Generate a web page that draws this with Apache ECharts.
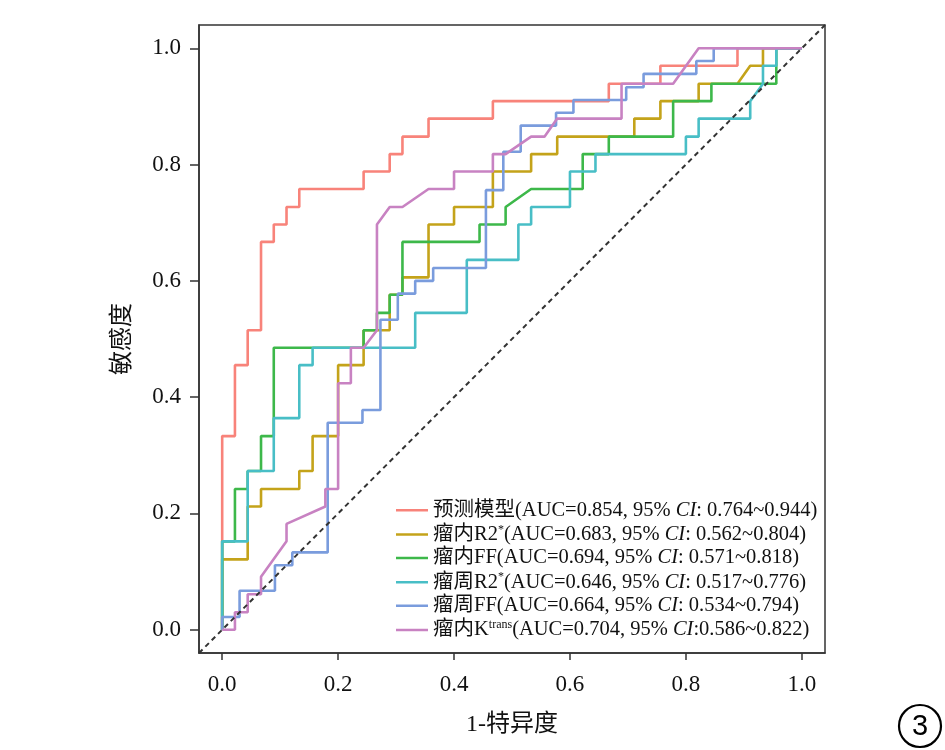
<!DOCTYPE html>
<html>
	<head>
		<meta charset="UTF-8">
		<title>ROC</title>
		<style>
			body {
				margin: 0;
				background: white;
			}
			#main {
				width: 945px;
				height: 750px;
			}
		</style>
	</head>
	<body>
		<div id="main"></div>
		<script type="text/javascript" src="https://cdn.jsdelivr.net/npm/echarts@6/dist/echarts.min.js"></script>
		<script>
			// 图例名称 / AUC / 95% CI
			var names = ['预测模型', '瘤内R2*', '瘤内FF', '瘤周R2*', '瘤周FF', '瘤内Ktrans'];
			var aucVals = ['0.854', '0.683', '0.694', '0.646', '0.664', '0.704'];
			var ciText = [': 0.764~0.944', ': 0.562~0.804', ': 0.571~0.818', ': 0.517~0.776', ': 0.534~0.794', ':0.586~0.822'];
			var colors = ['#F8837A', '#C4A31A', '#3DB84A', '#48BEC6', '#7A9CDD', '#C882C2'];

			// 坐标刻度
			var xTicks = [0, 0.2, 0.4, 0.6, 0.8, 1.0];
			var yTicks = [0, 0.2, 0.4, 0.6, 0.8, 1.0];

			// ROC 曲线拐点 (1-特异度, 敏感度)
			var predFpr = [0, 0, 0.022, 0.022, 0.044, 0.044, 0.067, 0.067, 0.089, 0.089, 0.111, 0.111, 0.133, 0.133, 0.244, 0.244, 0.289, 0.289, 0.311, 0.311, 0.356, 0.356, 0.467, 0.467, 0.667, 0.667, 0.756, 0.756, 0.889, 0.889, 1];
			var predTpr = [0, 0.333, 0.333, 0.455, 0.455, 0.515, 0.515, 0.667, 0.667, 0.697, 0.697, 0.727, 0.727, 0.758, 0.758, 0.788, 0.788, 0.818, 0.818, 0.848, 0.848, 0.879, 0.879, 0.909, 0.909, 0.939, 0.939, 0.970, 0.970, 1, 1];

			var inR2Fpr = [0, 0, 0.044, 0.044, 0.067, 0.067, 0.133, 0.133, 0.156, 0.156, 0.2, 0.2, 0.244, 0.244, 0.289, 0.289, 0.311, 0.311, 0.356, 0.356, 0.4, 0.4, 0.467, 0.467, 0.533, 0.533, 0.578, 0.578, 0.711, 0.711, 0.756, 0.756, 0.822, 0.822, 0.889, 0.911, 0.933, 0.933, 1];
			var inR2Tpr = [0, 0.121, 0.121, 0.212, 0.212, 0.242, 0.242, 0.273, 0.273, 0.333, 0.333, 0.455, 0.455, 0.515, 0.515, 0.576, 0.576, 0.606, 0.606, 0.697, 0.697, 0.727, 0.727, 0.788, 0.788, 0.818, 0.818, 0.848, 0.848, 0.879, 0.879, 0.909, 0.909, 0.939, 0.939, 0.970, 0.970, 1, 1];

			var inFFFpr = [0, 0, 0.022, 0.022, 0.044, 0.044, 0.067, 0.067, 0.089, 0.089, 0.244, 0.244, 0.267, 0.267, 0.289, 0.289, 0.311, 0.311, 0.444, 0.444, 0.489, 0.489, 0.533, 0.622, 0.622, 0.667, 0.667, 0.778, 0.778, 0.844, 0.844, 0.956, 0.956, 1];
			var inFFTpr = [0, 0.152, 0.152, 0.242, 0.242, 0.273, 0.273, 0.333, 0.333, 0.485, 0.485, 0.515, 0.515, 0.545, 0.545, 0.576, 0.576, 0.667, 0.667, 0.697, 0.697, 0.727, 0.758, 0.758, 0.818, 0.818, 0.848, 0.848, 0.909, 0.909, 0.939, 0.939, 1, 1];

			var periR2Fpr = [0, 0, 0.044, 0.044, 0.089, 0.089, 0.133, 0.133, 0.156, 0.156, 0.333, 0.333, 0.422, 0.422, 0.511, 0.511, 0.533, 0.533, 0.6, 0.6, 0.644, 0.644, 0.8, 0.8, 0.822, 0.822, 0.911, 0.911, 0.933, 0.933, 0.956, 0.956, 1];
			var periR2Tpr = [0, 0.152, 0.152, 0.273, 0.273, 0.364, 0.364, 0.455, 0.455, 0.485, 0.485, 0.545, 0.545, 0.636, 0.636, 0.697, 0.697, 0.727, 0.727, 0.788, 0.788, 0.818, 0.818, 0.848, 0.848, 0.879, 0.879, 0.909, 0.939, 0.970, 0.970, 1, 1];

			var periFFFpr = [0, 0, 0.030, 0.030, 0.091, 0.091, 0.121, 0.121, 0.182, 0.182, 0.242, 0.242, 0.273, 0.273, 0.303, 0.303, 0.333, 0.333, 0.364, 0.364, 0.455, 0.455, 0.485, 0.485, 0.515, 0.515, 0.576, 0.576, 0.606, 0.606, 0.697, 0.697, 0.727, 0.727, 0.818, 0.818, 0.848, 0.848, 1];
			var periFFTpr = [0, 0.022, 0.022, 0.067, 0.067, 0.111, 0.111, 0.133, 0.133, 0.356, 0.356, 0.378, 0.378, 0.533, 0.533, 0.578, 0.578, 0.6, 0.6, 0.622, 0.622, 0.756, 0.756, 0.822, 0.822, 0.867, 0.867, 0.889, 0.889, 0.911, 0.911, 0.933, 0.933, 0.956, 0.956, 0.978, 0.978, 1, 1];

			var ktransFpr = [0, 0.022, 0.022, 0.044, 0.044, 0.067, 0.067, 0.111, 0.111, 0.178, 0.178, 0.2, 0.2, 0.222, 0.222, 0.244, 0.267, 0.267, 0.289, 0.311, 0.356, 0.4, 0.4, 0.467, 0.467, 0.489, 0.533, 0.556, 0.578, 0.689, 0.689, 0.778, 0.822, 1];
			var ktransTpr = [0, 0, 0.030, 0.030, 0.061, 0.061, 0.091, 0.152, 0.182, 0.212, 0.242, 0.242, 0.424, 0.424, 0.485, 0.485, 0.515, 0.697, 0.727, 0.727, 0.758, 0.758, 0.788, 0.788, 0.818, 0.818, 0.848, 0.848, 0.879, 0.879, 0.939, 0.939, 1, 1];

			var curves = [
				[predFpr, predTpr],
				[inR2Fpr, inR2Tpr],
				[inFFFpr, inFFTpr],
				[periR2Fpr, periR2Tpr],
				[periFFFpr, periFFTpr],
				[ktransFpr, ktransTpr]
			];

			var font = "'Liberation Serif', 'Noto Sans CJK SC', serif";
			var axisColor = '#333';

			function pairs(xs, ys) {
				var arr = [];
				for(var i = 0; i < xs.length; i++) {
					arr.push([xs[i], ys[i]]);
				}
				return arr;
			}

			// 图例文字：上标与斜体
			function legendLabel(name) {
				var idx = names.indexOf(name);
				var head = '';
				if(name.indexOf('R2*') > -1) {
					head = '{n|' + name.replace('*', '') + '}{s|*}';
				} else if(name.indexOf('Ktrans') > -1) {
					head = '{n|' + name.replace('trans', '') + '}{s|trans}';
				} else {
					head = '{n|' + name + '}';
				}
				return head + '{n|(AUC=' + aucVals[idx] + ', 95% }{i|CI}{n|' + ciText[idx] + ')}';
			}

			var series = [];
			for(var k = 0; k < names.length; k++) {
				series.push({
					name: names[k],
					type: 'line',
					data: pairs(curves[k][0], curves[k][1]),
					showSymbol: false,
					symbol: 'none',
					lineStyle: {
						color: colors[k],
						width: 2.6
					},
					itemStyle: {
						color: colors[k]
					},
					z: 2 + k
				});
			}
			series.push({
				name: 'ref',
				type: 'line',
				data: [[-0.04, -0.04], [1.04, 1.04]],
				showSymbol: false,
				symbol: 'none',
				lineStyle: {
					color: '#333',
					width: 2,
					type: [5, 4]
				},
				z: 10
			});

			var myChart = echarts.init(document.getElementById('main'));
			var option = {
				animation: false,
				backgroundColor: '#fff',
				grid: {
					left: 199,
					right: 120,
					top: 25,
					bottom: 97,
					show: true,
					borderColor: axisColor,
					borderWidth: 1.5,
					containLabel: false
				},
				legend: {
					data: names,
					orient: 'vertical',
					left: 391,
					top: 495,
					icon: 'rect',
					itemWidth: 32,
					itemHeight: 2.5,
					itemGap: 3,
					selectedMode: false,
					formatter: legendLabel,
					textStyle: {
						fontFamily: font,
						fontSize: 20.5,
						color: '#111',
						rich: {
							n: {
								fontFamily: font,
								fontSize: 20.5,
								lineHeight: 22,
								color: '#111'
							},
							i: {
								fontFamily: font,
								fontSize: 20.5,
								lineHeight: 22,
								fontStyle: 'italic',
								color: '#111'
							},
							s: {
								fontFamily: font,
								fontSize: 12,
								lineHeight: 22,
								verticalAlign: 'top',
								color: '#111'
							}
						}
					}
				},
				xAxis: {
					type: 'value',
					min: -0.04,
					max: 1.04,
					name: '1-特异度',
					nameLocation: 'middle',
					nameGap: 60,
					nameTextStyle: {
						fontFamily: font,
						fontSize: 24,
						color: '#111'
					},
					axisLine: {
						show: true,
						onZero: false,
						lineStyle: {
							color: axisColor,
							width: 1.5
						}
					},
					axisTick: {
						show: true,
						length: 7,
						customValues: xTicks,
						lineStyle: {
							color: axisColor,
							width: 1.5
						}
					},
					axisLabel: {
						customValues: xTicks,
						margin: 20,
						fontFamily: font,
						fontSize: 23,
						color: '#111',
						formatter: function(v) {
							return v.toFixed(1);
						}
					},
					splitLine: {
						show: false
					}
				},
				yAxis: {
					type: 'value',
					min: -0.04,
					max: 1.04,
					name: '敏感度',
					nameLocation: 'middle',
					nameGap: 64,
					nameTextStyle: {
						fontFamily: font,
						fontSize: 24,
						color: '#111'
					},
					axisLine: {
						show: true,
						onZero: false,
						lineStyle: {
							color: axisColor,
							width: 1.5
						}
					},
					axisTick: {
						show: true,
						length: 9,
						customValues: yTicks,
						lineStyle: {
							color: axisColor,
							width: 1.5
						}
					},
					axisLabel: {
						customValues: yTicks,
						margin: 18,
						fontFamily: font,
						fontSize: 23,
						color: '#111',
						formatter: function(v) {
							return v.toFixed(1);
						}
					},
					splitLine: {
						show: false
					}
				},
				graphic: [{
					type: 'circle',
					shape: {
						cx: 920,
						cy: 726,
						r: 21
					},
					style: {
						fill: 'none',
						stroke: '#000',
						lineWidth: 2.2
					}
				}, {
					type: 'text',
					x: 920,
					y: 727,
					style: {
						text: '3',
						align: 'center',
						verticalAlign: 'middle',
						fontFamily: "'Liberation Sans', Arial, sans-serif",
						fontSize: 29,
						fill: '#000'
					}
				}],
				series: series
			};
			myChart.setOption(option);
		</script>
	</body>
</html>
